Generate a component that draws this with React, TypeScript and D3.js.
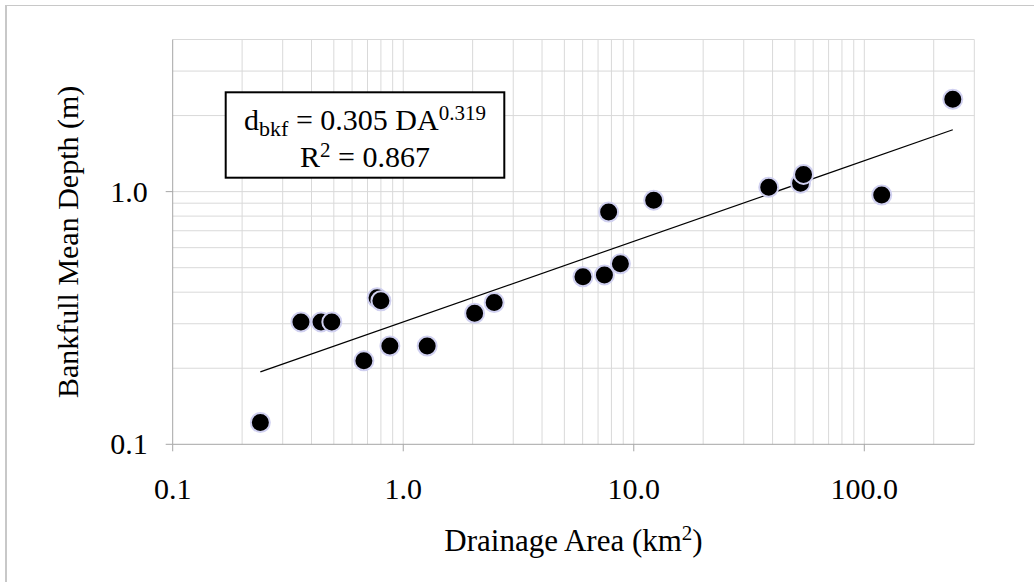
import React from "react";
import * as d3 from "d3";

// drainage area (km2) and bankfull mean depth (m)
const drainageArea = [
  0.24, 0.36, 0.44, 0.49, 0.77, 0.8, 0.675, 0.875, 1.27, 2.04, 2.48,
  6.02, 7.46, 8.75, 7.78, 12.2, 38.5, 52.9, 54.5, 119, 242,
];
const meanDepth = [
  0.122, 0.305, 0.305, 0.305, 0.38, 0.37, 0.214, 0.245, 0.245, 0.33, 0.364,
  0.46, 0.468, 0.518, 0.83, 0.925, 1.04, 1.08, 1.17, 0.97, 2.32,
];

// power fit shown in the box
const fitA = 0.305;
const fitB = 0.319;

const xTicks = [0.1, 1, 10, 100];
const yTicks = [0.1, 1];

const W = 1034;
const H = 582;
const margin = { top: 39.5, right: 59.7, bottom: 137.7, left: 172.7 };
const font = "Liberation Serif, Times New Roman, Times, serif";

export default function App() {
  const x = d3
    .scaleLog()
    .domain([0.1, 300])
    .range([margin.left, W - margin.right]);
  const y = d3
    .scaleLog()
    .domain([0.1, 4])
    .range([H - margin.bottom, margin.top]);

  const [x0, x1] = x.range();
  const [y0, y1] = y.range();

  // minor/major gridlines for each decade
  const xGrid = x.ticks().filter((t) => t > 0.1 && t <= 300);
  const yGrid = y.ticks().filter((t) => t > 0.1 && t <= 4);

  const pts = drainageArea.map((d, i) => ({ a: d, dep: meanDepth[i] }));
  const fitX = d3.extent(drainageArea) as [number, number];
  const fitLine = d3
    .line<number>()
    .x((d) => x(d))
    .y((d) => y(fitA * Math.pow(d, fitB)));

  const boxX = 225.7;
  const boxY = 92.3;
  const boxW = 278.6;
  const boxH = 85.4;
  const cx = boxX + boxW / 2;

  return (
    <svg
      width={W}
      height={H}
      style={{
        position: "absolute",
        left: 0,
        top: 0,
        background: "#fff",
        fontFamily: font,
      }}
    >
      {/* outer frame (only top and left edges visible) */}
      <line x1={5} x2={W} y1={5.5} y2={5.5} stroke="#c8c8c8" />
      <line x1={6} x2={6} y1={5} y2={H} stroke="#c8c8c8" strokeWidth={2} />

      {/* grid */}
      <g stroke="#d9d9d9" strokeWidth={1}>
        {xGrid.map((t, i) => (
          <line key={"gx" + i} x1={x(t)} x2={x(t)} y1={y1} y2={y0} />
        ))}
        {yGrid.map((t, i) => (
          <line key={"gy" + i} x1={x0} x2={x1} y1={y(t)} y2={y(t)} />
        ))}
      </g>

      {/* axes */}
      <g stroke="#a6a6a6" strokeWidth={1}>
        <line x1={x0} x2={x0} y1={y1} y2={y0} />
        <line x1={x0} x2={x1} y1={y0} y2={y0} />
        {xTicks.map((t) => (
          <line key={"tx" + t} x1={x(t)} x2={x(t)} y1={y0} y2={y0 + 7} />
        ))}
        {yTicks.map((t) => (
          <line key={"ty" + t} x1={x0 - 7} x2={x0} y1={y(t)} y2={y(t)} />
        ))}
      </g>

      {/* tick labels */}
      <g fontSize={30} fill="#000">
        {xTicks.map((t) => (
          <text key={"lx" + t} x={x(t)} y={y0 + 55} textAnchor="middle">
            {t === 0.1 ? "0.1" : d3.format(".1f")(t)}
          </text>
        ))}
        {yTicks.map((t) => (
          <text
            key={"ly" + t}
            x={x0 - 25}
            y={y(t) + 10}
            textAnchor="end"
          >
            {t === 0.1 ? "0.1" : d3.format(".1f")(t)}
          </text>
        ))}
      </g>

      {/* axis titles */}
      <text
        x={(x0 + x1) / 2}
        y={551}
        textAnchor="middle"
        fontSize={31}
      >
        Drainage Area (km
        <tspan fontSize={21} dy={-11}>
          2
        </tspan>
        <tspan dy={11}>)</tspan>
      </text>
      <text
        transform={`translate(78,${(y0 + y1) / 2}) rotate(-90)`}
        textAnchor="middle"
        fontSize={30}
      >
        Bankfull Mean Depth (m)
      </text>

      {/* fitted power line */}
      <path
        d={fitLine(fitX) || ""}
        fill="none"
        stroke="#000"
        strokeWidth={1.2}
      />

      {/* observations */}
      <g>
        {pts.map((p, i) => (
          <circle
            key={i}
            cx={x(p.a)}
            cy={y(p.dep)}
            r={9.5}
            fill="#000"
            stroke="#d0d0f0"
            strokeWidth={2}
          />
        ))}
      </g>

      {/* equation box */}
      <rect
        x={boxX}
        y={boxY}
        width={boxW}
        height={boxH}
        fill="#fff"
        stroke="#000"
        strokeWidth={2}
      />
      <text x={cx} y={boxY + 38} textAnchor="middle" fontSize={30}>
        d
        <tspan fontSize={22} dy={6}>
          bkf
        </tspan>
        <tspan dy={-6}> = 0.305 DA</tspan>
        <tspan fontSize={21} dy={-10}>
          0.319
        </tspan>
      </text>
      <text x={cx} y={boxY + 75} textAnchor="middle" fontSize={30}>
        R
        <tspan fontSize={21} dy={-10}>
          2
        </tspan>
        <tspan dy={10}> = 0.867</tspan>
      </text>
    </svg>
  );
}
